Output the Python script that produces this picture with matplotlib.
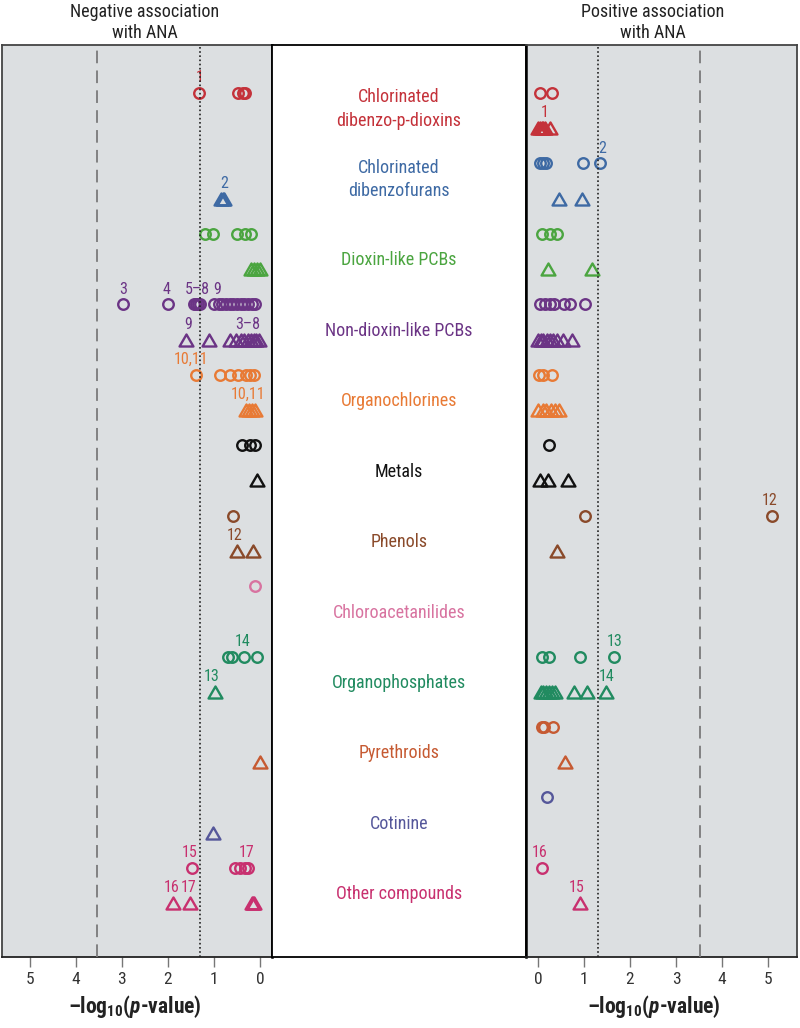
import matplotlib
matplotlib.use('Agg')
import matplotlib.pyplot as plt
from matplotlib.path import Path
from matplotlib.transforms import blended_transform_factory

plt.rcParams['font.family'] = ['Roboto Condensed', 'DejaVu Sans']
plt.rcParams['font.stretch'] = 'condensed'
plt.rcParams['mathtext.fontset'] = 'custom'
plt.rcParams['mathtext.rm'] = 'Roboto Condensed:bold'
plt.rcParams['mathtext.bf'] = 'Roboto Condensed:bold'
plt.rcParams['mathtext.it'] = 'Roboto Condensed:bold:italic'

# chemical classes, one circle row and one triangle row each
groups = ['Chlorinated\ndibenzo-p-dioxins', 'Chlorinated\ndibenzofurans', 'Dioxin-like PCBs',
          'Non-dioxin-like PCBs', 'Organochlorines', 'Metals', 'Phenols', 'Chloroacetanilides',
          'Organophosphates', 'Pyrethroids', 'Cotinine', 'Other compounds']
colors = ['#c4323a', '#3e6aa4', '#4ba540', '#6b3485', '#e87a35', '#111111',
          '#8a4a2a', '#d873a0', '#218b60', '#c65a32', '#55579a', '#c8306f']

# -log10(p) for negative associations
neg_circles = [
    [1.33, 0.47, 0.38, 0.32],
    [],
    [1.20, 1.02, 0.50, 0.33, 0.20],
    [2.98, 2.0, 1.43, 1.39, 1.35, 1.31, 1.0, 0.9, 0.82, 0.74, 0.66, 0.58, 0.5, 0.42, 0.34, 0.26, 0.18, 0.1],
    [1.39, 0.87, 0.66, 0.48, 0.3, 0.22, 0.12],
    [0.4, 0.22, 0.1],
    [0.58],
    [0.11],
    [0.7, 0.6, 0.34, 0.07],
    [],
    [],
    [1.47, 0.54, 0.43, 0.33, 0.26],
]
neg_triangles = [
    [],
    [0.85, 0.81, 0.78],
    [0.2, 0.13, 0.06, 0.0],
    [1.6, 1.1, 0.65, 0.52, 0.42, 0.34, 0.27, 0.2, 0.14, 0.08, 0.03],
    [0.3, 0.24, 0.18, 0.11],
    [0.07],
    [0.5, 0.15],
    [],
    [0.98],
    [0.0],
    [1.02],
    [1.88, 1.52, 0.18, 0.15, 0.12],
]
# -log10(p) for positive associations
pos_circles = [
    [0.05, 0.3],
    [0.05, 0.11, 0.17, 0.98, 1.34],
    [0.08, 0.26, 0.42],
    [0.04, 0.15, 0.26, 0.35, 0.57, 0.7, 1.03],
    [0.02, 0.12, 0.3],
    [0.25],
    [1.03, 5.08],
    [],
    [0.08, 0.25, 0.91, 1.66],
    [0.08, 0.14, 0.33],
    [0.2],
    [0.08],
]
pos_triangles = [
    [0.0, 0.04, 0.08, 0.12, 0.16, 0.27],
    [0.46, 0.96],
    [0.21, 1.18],
    [0.0, 0.06, 0.12, 0.2, 0.26, 0.33, 0.42, 0.55, 0.73],
    [0.0, 0.1, 0.18, 0.28, 0.38, 0.45],
    [0.05, 0.22, 0.65],
    [0.41],
    [],
    [0.06, 0.12, 0.18, 0.24, 0.3, 0.38, 0.78, 1.07, 1.48],
    [0.59],
    [],
    [0.91],
]
# numbered compound labels: (row, x, text)
neg_labels = [(0, 1.31, '1'), (3, 0.78, '2'), (6, 2.98, '3'), (6, 2.03, '4'), (6, 1.37, '5–8'),
              (6, 0.93, '9'), (7, 1.56, '9'), (7, 0.26, '3–8'), (8, 1.5, '10,11'), (9, 0.27, '10,11'),
              (13, 0.56, '12'), (16, 0.37, '14'), (17, 1.05, '13'), (22, 1.52, '15'), (22, 0.3, '17'),
              (23, 1.92, '16'), (23, 1.54, '17')]
pos_labels = [(1, 0.15, '1'), (2, 1.39, '2'), (12, 5.03, '12'), (16, 1.66, '13'), (17, 1.49, '14'),
              (22, 0.03, '16'), (23, 0.85, '15')]

nominal = 1.301   # p = 0.05
bonf = 3.53       # Bonferroni
xticks = [0, 1, 2, 3, 4, 5]

tri = Path([(-1, -0.866), (1, -0.866), (0, 0.866), (-1, -0.866)],
           [Path.MOVETO, Path.LINETO, Path.LINETO, Path.CLOSEPOLY])

fig = plt.figure(figsize=(8, 10.28), dpi=100)
H = 1028.0
bot = 1 - 957 / H
hgt = (957 - 45) / H
ax_l = fig.add_axes([2 / 800, bot, 270 / 800, hgt])
ax_m = fig.add_axes([272 / 800, bot, 254 / 800, hgt])
ax_r = fig.add_axes([526 / 800, bot, 271 / 800, hgt])
ylim = (24.53, -1.363)


def draw_side(ax, circles, triangles, labels):
    ax.set_facecolor('#dcdfe1')
    for g, col in enumerate(colors):
        if circles[g]:
            ax.plot(circles[g], [2 * g] * len(circles[g]), 'o', ls='none', mfc='none', mec=col,
                    ms=7.6, mew=1.7, zorder=2)
        if triangles[g]:
            ax.plot(triangles[g], [2 * g + 1] * len(triangles[g]), marker=tri, ls='none', mfc='none',
                    mec=col, ms=10, mew=1.7, zorder=2)
    for row, x, txt in labels:
        ax.text(x, row - 0.22, txt, ha='center', va='bottom', fontsize=11.5, color=colors[row // 2])
    ax.axvline(nominal, color='#222222', ls=(0, (1, 1.5)), lw=1.2, zorder=3)
    ax.axvline(bonf, color='#7a7a7a', ls=(0, (7, 4)), lw=1.3, zorder=3)
    ax.set_ylim(*ylim)
    ax.set_yticks([])
    ax.set_xticks(xticks)
    ax.tick_params(axis='x', direction='out', length=7, width=1, color='#777777',
                   labelsize=12.5, labelcolor='#333333', pad=4)
    for s in ax.spines.values():
        s.set_color('#444444')
        s.set_linewidth(1.3)
    ax.spines['bottom'].set_color('#222222')
    ax.set_xlabel('–log$_{\\mathbf{10}}$($\\mathit{p}$-value)', fontsize=15.5,
                  fontweight='bold', color='#222222')


draw_side(ax_l, neg_circles, neg_triangles, neg_labels)
ax_l.set_xlim(5.6, -0.26)
ax_l.spines['right'].set_color('#000000')
ax_l.spines['right'].set_linewidth(1.8)
ax_l.xaxis.set_label_coords(0.493, -0.039)

draw_side(ax_r, pos_circles, pos_triangles, pos_labels)
ax_r.set_xlim(-0.26, 5.63)
ax_r.spines['left'].set_color('#000000')
ax_r.spines['left'].set_linewidth(1.8)
ax_r.xaxis.set_label_coords(0.472, -0.039)

# header texts above each side
for ax, txt in [(ax_l, 'Negative association\nwith ANA'), (ax_r, 'Positive association\nwith ANA')]:
    tr = blended_transform_factory(ax.transData, ax.transAxes)
    ax.text(2.5, 1.025, txt, transform=tr, ha='center', va='center', fontsize=13,
            color='#222222', linespacing=1.2)

# class names in the middle column
ax_m.set_facecolor('white')
ax_m.set_xlim(0, 1)
ax_m.set_ylim(*ylim)
ax_m.set_xticks([])
ax_m.set_yticks([])
for s in ax_m.spines.values():
    s.set_color('#000000')
    s.set_linewidth(1.3)
for g, name in enumerate(groups):
    yc = 2 * g + 0.5
    if '\n' in name:
        yc -= 0.05
    else:
        yc += 0.25
    ax_m.text(0.5, yc, name, ha='center', va='center', fontsize=13, color=colors[g],
              linespacing=1.4)

fig.savefig('out.png', dpi=100)
